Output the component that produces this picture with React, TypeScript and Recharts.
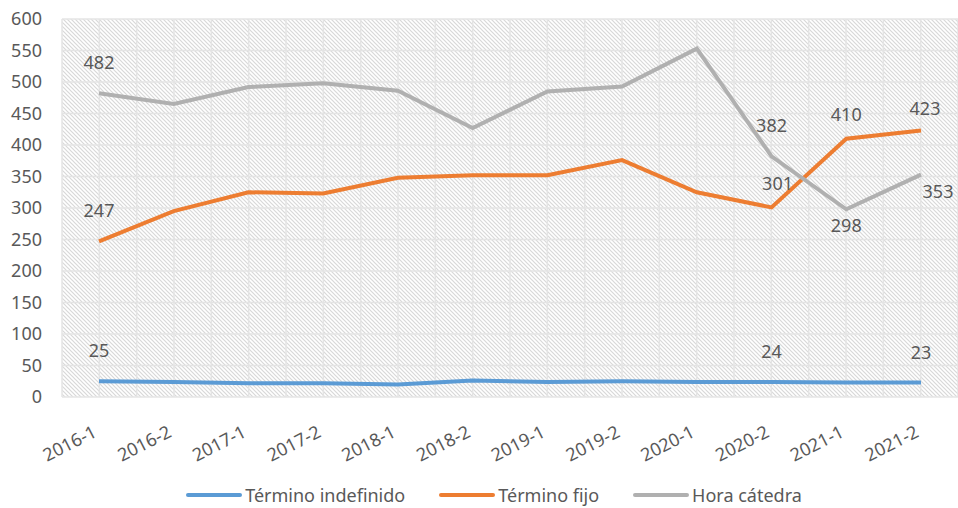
import React from "react";
import {
  LineChart,
  Line,
  XAxis,
  YAxis,
  CartesianGrid,
  Legend,
  LabelList,
} from "recharts";

const periods = [
  "2016-1", "2016-2", "2017-1", "2017-2", "2018-1", "2018-2",
  "2019-1", "2019-2", "2020-1", "2020-2", "2021-1", "2021-2",
];
const indefinido = [25, 24, 22, 22, 20, 26, 24, 25, 24, 24, 23, 23];
const fijo = [247, 295, 325, 323, 348, 352, 352, 376, 325, 301, 410, 423];
const catedra = [482, 465, 492, 498, 486, 427, 485, 493, 553, 382, 298, 353];
const yTicks = [0, 50, 100, 150, 200, 250, 300, 350, 400, 450, 500, 550, 600];

// which points carry a value label
const indefinidoLabeled = [0, 9, 11];
const fijoLabeled = [0, 9, 10, 11];
const catedraLabeled = [0, 9, 10, 11];

const data = periods.map((p, i) => ({
  period: p,
  indefinido: indefinido[i],
  fijo: fijo[i],
  catedra: catedra[i],
}));

const FONT = "'Noto Sans', 'Open Sans', sans-serif";
const TEXT = "#595959";
const BLUE = "#5b9bd5";
const ORANGE = "#ed7d31";
const GRAY = "#b0b0b0";

// label offsets (dx, dy of text centre from the point); default is above
const offsets: Record<string, Record<number, [number, number]>> = {
  fijo: { 9: [6, -24], 10: [0, -25], 11: [4, -23] },
  catedra: { 10: [0, 16], 11: [17, 16] },
};

function makeLabel(key: string, shown: number[]) {
  return (props: any) => {
    const { x, y, value, index } = props;
    if (!shown.includes(index)) return null;
    const [dx, dy] = offsets[key]?.[index] ?? [0, -31];
    return (
      <text
        x={x + dx}
        y={y + dy}
        textAnchor="middle"
        dominantBaseline="central"
        fill={TEXT}
        fontSize={18}
        fontFamily={FONT}
      >
        {value}
      </text>
    );
  };
}

function XTick(props: any) {
  const { x, y, payload } = props;
  const tx = x - 1;
  const ty = y + 31;
  return (
    <text
      x={tx}
      y={ty}
      transform={`rotate(-27, ${tx}, ${ty})`}
      textAnchor="end"
      fill={TEXT}
      fontSize={18}
      fontFamily={FONT}
    >
      {payload.value}
    </text>
  );
}

const legendItems = [
  { name: "Término indefinido", color: BLUE },
  { name: "Término fijo", color: ORANGE },
  { name: "Hora cátedra", color: GRAY },
];

function LegendContent() {
  return (
    <div
      style={{
        display: "flex",
        justifyContent: "center",
        alignItems: "center",
        gap: 34,
        paddingLeft: 30,
        paddingTop: 8,
        fontFamily: FONT,
        fontSize: 18,
        color: TEXT,
      }}
    >
      {legendItems.map((it) => (
        <div key={it.name} style={{ display: "flex", alignItems: "center", gap: 3 }}>
          <svg width={56} height={8}>
            <line x1={2} y1={4} x2={54} y2={4} stroke={it.color} strokeWidth={4} strokeLinecap="round" />
          </svg>
          <span>{it.name}</span>
        </div>
      ))}
    </div>
  );
}

export default function App() {
  return (
    <div style={{ position: "absolute", left: 0, top: 0, background: "#fff" }}>
      <LineChart
        width={958}
        height={508}
        data={data}
        margin={{ top: 19, right: 0, left: 0, bottom: 0 }}
      >
        <defs>
          <pattern id="hatch" width={4} height={4} patternUnits="userSpaceOnUse">
            <rect width={4} height={4} fill="#ffffff" />
            <path d="M-1,-1 L5,5 M-1,3 L1,5 M3,-1 L5,1" stroke="#d8d8d8" strokeWidth={1.2} />
          </pattern>
        </defs>
        <CartesianGrid
          fill="url(#hatch)"
          fillOpacity={1}
          stroke="#e4e4e4"
          strokeWidth={1.5}
          verticalCoordinatesGenerator={({ offset }: any) =>
            Array.from({ length: periods.length * 2 + 1 }, (_, i) =>
              offset.left + (i * offset.width) / (periods.length * 2)
            )
          }
        />
        <XAxis
          dataKey="period"
          axisLine={false}
          tickLine={false}
          height={78}
          interval={0}
          padding={{ left: 37, right: 37 }}
          tick={<XTick />}
        />
        <YAxis
          domain={[0, 600]}
          ticks={yTicks}
          width={62}
          axisLine={false}
          tickLine={false}
          tickMargin={14}
          tick={{ fill: TEXT, fontSize: 18, fontFamily: FONT }}
          interval={0}
        />
        <Legend verticalAlign="bottom" height={33} content={<LegendContent />} />
        <Line
          dataKey="indefinido"
          name="Término indefinido"
          stroke={BLUE}
          strokeWidth={4}
          dot={false}
          isAnimationActive={false}
        >
          <LabelList dataKey="indefinido" content={makeLabel("indefinido", indefinidoLabeled)} />
        </Line>
        <Line
          dataKey="fijo"
          name="Término fijo"
          stroke={ORANGE}
          strokeWidth={4}
          dot={false}
          isAnimationActive={false}
        >
          <LabelList dataKey="fijo" content={makeLabel("fijo", fijoLabeled)} />
        </Line>
        <Line
          dataKey="catedra"
          name="Hora cátedra"
          stroke={GRAY}
          strokeWidth={4}
          dot={false}
          isAnimationActive={false}
        >
          <LabelList dataKey="catedra" content={makeLabel("catedra", catedraLabeled)} />
        </Line>
      </LineChart>
    </div>
  );
}
